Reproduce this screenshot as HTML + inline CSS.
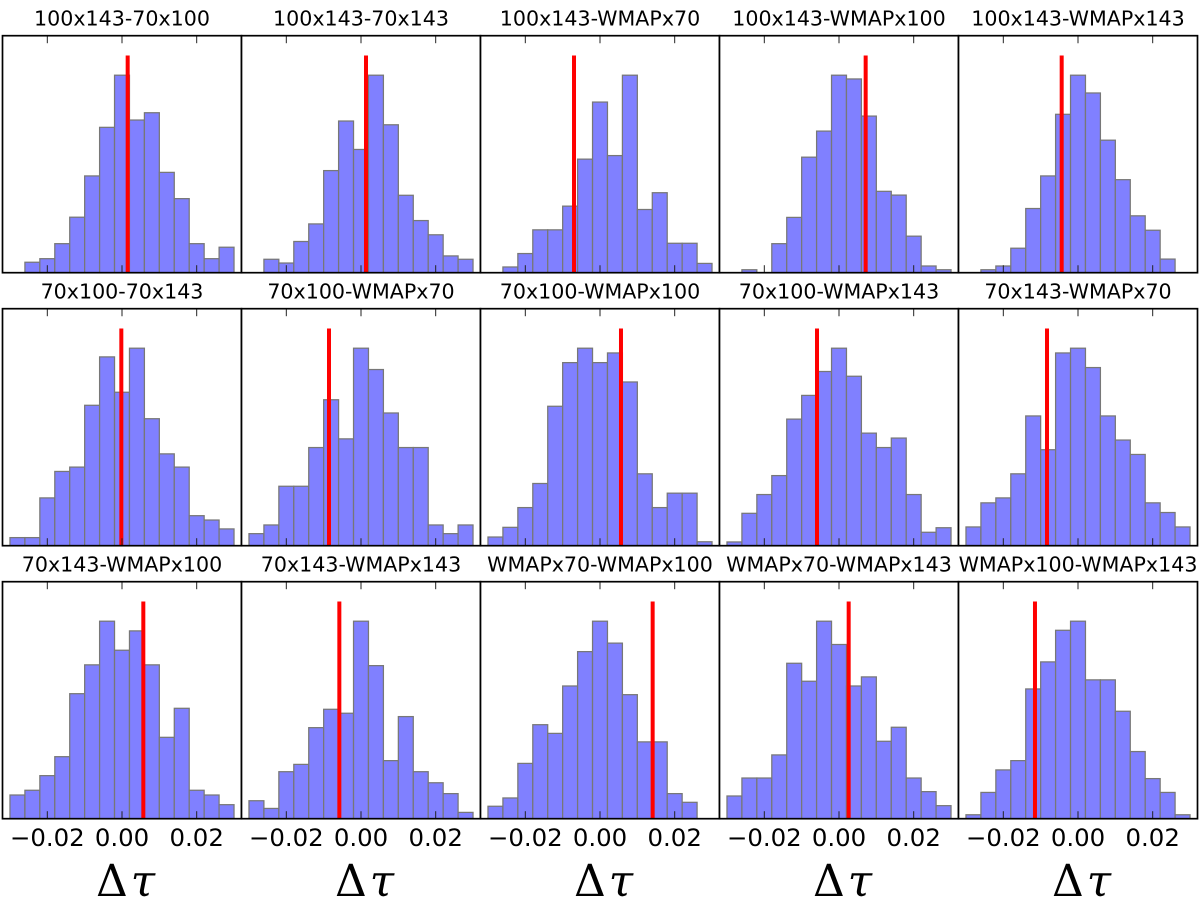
<!DOCTYPE html>
<html lang="en">
<head>
<meta charset="utf-8">
<title>Delta tau histograms</title>
<style>
  html, body { margin: 0; padding: 0; background: #fff; }
  #chart { display: block; width: 1200px; height: 900px; }
  text { font-family: "DejaVu Sans", "Liberation Sans", sans-serif; fill: #000; }
  .axis-label { font-family: "DejaVu Serif", "Liberation Serif", serif; }
</style>
</head>
<body>
<svg id="chart" xmlns="http://www.w3.org/2000/svg" width="1200" height="900" viewBox="0 0 1200 900"></svg>
<script>
const panelTitles = [
  "100x143-70x100", "100x143-70x143", "100x143-WMAPx70", "100x143-WMAPx100", "100x143-WMAPx143",
  "70x100-70x143", "70x100-WMAPx70", "70x100-WMAPx100", "70x100-WMAPx143", "70x143-WMAPx70",
  "70x143-WMAPx100", "70x143-WMAPx143", "WMAPx70-WMAPx100", "WMAPx70-WMAPx143", "WMAPx100-WMAPx143"
];
const binEdges = [-0.03, -0.026, -0.022, -0.018, -0.014, -0.01, -0.006, -0.002, 0.002, 0.006, 0.01, 0.014, 0.018, 0.022, 0.026, 0.03];
const histogramValues = [
  [0, 5.3, 7.1, 14.7, 28.1, 49, 73.6, 100, 77.3, 81, 50.8, 37.5, 14.7, 7.1, 12.9],
  [0, 6.8, 4.9, 15.8, 24.7, 51.7, 76.8, 62.4, 100, 74.9, 39.2, 26.4, 19.2, 8.5, 6.8],
  [0, 2.9, 9.7, 21.7, 21.7, 33.7, 57.5, 86.4, 59.3, 100, 32, 40.5, 14.9, 14.9, 4.7],
  [0, 1.5, 0, 14.7, 28, 58.5, 71.7, 100, 98.1, 79.3, 41.2, 39.3, 18.5, 3.4, 1.5],
  [0, 1.5, 3.4, 12.4, 32.5, 49, 80.2, 100, 91, 67.1, 47.1, 28.8, 21.5, 6.9, 0],
  [4.1, 4.1, 24.2, 37.6, 39.8, 71.1, 95.6, 77.7, 100, 64.3, 46.5, 39.8, 15.2, 13, 8.5],
  [6.1, 10.5, 30.1, 30.1, 49.7, 73.9, 54.1, 100, 89.2, 67.2, 49.7, 49.7, 10.5, 6.1, 10.5],
  [4.4, 9.3, 19.3, 31.5, 70.6, 92.7, 100, 92.7, 97.6, 82.9, 36.4, 19.3, 26.6, 26.6, 2],
  [1.9, 16.4, 25.9, 35.5, 64.1, 76.1, 88.2, 100, 85.8, 57, 49.7, 54.5, 25.9, 6.8, 9.1],
  [9.5, 21.7, 24.2, 36.4, 65.7, 48.6, 97.6, 100, 90.2, 65.7, 53.5, 46.2, 21.7, 16.8, 9.5],
  [12, 14.4, 21.8, 31.4, 63.3, 77.9, 100, 85.3, 95.1, 77.9, 41.2, 55.9, 14.4, 12, 7.1],
  [9.1, 5.2, 23.8, 27.5, 46.1, 55.4, 53.4, 100, 77.5, 29.4, 51.7, 23.8, 18.2, 12.7, 3.2],
  [6.3, 10.5, 28, 47.6, 43.2, 67.2, 84.6, 100, 88.9, 62.8, 38.9, 38.9, 12.7, 8.3, 0],
  [11.5, 20.6, 20.6, 32.3, 78.7, 69.6, 100, 88.2, 67.2, 71.8, 39.2, 46.3, 20.6, 13.7, 6.6],
  [2, 13.3, 24.7, 29.4, 65.7, 79.4, 95.4, 100, 70.3, 70.3, 54.4, 34, 20.3, 13.3, 2]
];
const observedValues = [
  0.00152, 0.00134, -0.00696, 0.00714, -0.00437,
  -0.00018, -0.00857, 0.00562, -0.00589, -0.0083,
  0.00571, -0.0058, 0.0141, 0.00259, -0.01152
];
const tickValues = [-0.02, 0, 0.02];
const tickLabels = ["\u22120.02", "0.00", "0.02"];
const axisSymbolDelta = "\u0394";
const axisSymbolTau = "\u03C4";

const SVG_NS = "http://www.w3.org/2000/svg";
const svg = document.getElementById("chart");
const COLUMNS = 5;
const PANEL_W = 239;
const PANEL_H = 237;
const LEFT = 2.5;
const X_HALF_RANGE = 0.032;
const Y_HEADROOM = 1.2;
const LINE_HEADROOM = 1.1;
const rowTop = function (row) { return 35.7 + row * 273; };

function make(tag, attrs, parent, text) {
  const node = document.createElementNS(SVG_NS, tag);
  Object.keys(attrs).forEach(function (k) { node.setAttribute(k, attrs[k]); });
  if (text !== undefined) node.textContent = text;
  parent.appendChild(node);
  return node;
}

panelTitles.forEach(function (title, p) {
  const row = Math.floor(p / COLUMNS);
  const col = p % COLUMNS;
  const left = LEFT + col * PANEL_W;
  const top = rowTop(row);
  const bottom = top + PANEL_H;
  const values = histogramValues[p];
  const peak = Math.max.apply(null, values);
  const xScale = function (v) { return left + (v + X_HALF_RANGE) / (2 * X_HALF_RANGE) * PANEL_W; };
  const yScale = function (v) { return bottom - v / (peak * Y_HEADROOM) * PANEL_H; };

  const panel = make("g", {}, svg);
  
  

  const background = make("rect", { x: left, y: top, width: PANEL_W, height: PANEL_H, fill: "#fff" }, panel);
  
  

  const heading = make("text", { x: left + PANEL_W / 2, y: top - 10.4, "text-anchor": "middle", "font-size": 20.6 }, panel, title);
  
  

  values.forEach(function (v, i) {
    if (v <= 0) return;
    const x0 = xScale(binEdges[i]);
    const x1 = xScale(binEdges[i + 1]);
    const y = yScale(v);
    const bar = make("rect", {
      x: x0, y: y, width: x1 - x0, height: bottom - y,
      fill: "#8080ff",
      stroke: "#777777", "stroke-width": 1.25
    }, panel);
    
    
  });

  const marker = make("line", {
    x1: xScale(observedValues[p]), x2: xScale(observedValues[p]),
    y1: bottom, y2: yScale(peak * LINE_HEADROOM),
    stroke: "#ff0000", "stroke-width": 4
  }, panel);
  
  

  tickValues.forEach(function (t, i) {
    const x = xScale(t);
    const topTick = make("line", { x1: x, x2: x, y1: top, y2: top + 7.5, stroke: "#222", "stroke-width": 1 }, panel);
    
    
    const bottomTick = make("line", { x1: x, x2: x, y1: bottom, y2: bottom - 7.5, stroke: "#222", "stroke-width": 1 }, panel);
    
    
    if (row === 2) {
      const label = make("text", { x: x, y: bottom + 27.3, "text-anchor": "middle", "font-size": 24.4 }, panel, tickLabels[i]);
      
      
    }
  });

  const frame = make("rect", { x: left, y: top, width: PANEL_W, height: PANEL_H, fill: "none", stroke: "#000", "stroke-width": 1.7 }, panel);
  
  

  if (row === 2) {
    const axisTitle = make("text", { x: left + PANEL_W / 2 + 3.5, y: bottom + 77.3, "text-anchor": "middle", "font-size": 44, "class": "axis-label" }, panel);
    
    
    make("tspan", {}, axisTitle, axisSymbolDelta);
    make("tspan", { "font-style": "italic", dx: 3 }, axisTitle, axisSymbolTau);
  }
});
</script>
</body>
</html>
